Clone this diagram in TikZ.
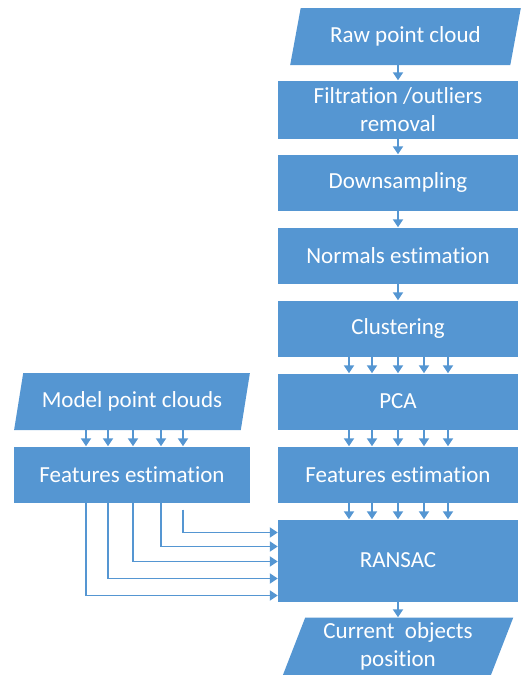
\documentclass[tikz,border=0pt]{standalone}
\usepackage{fontspec}
\setmainfont{Carlito}[Ligatures=NoCommon]
\usepackage{xcolor}
\usepackage{tikz}
\usetikzlibrary{shapes.geometric, arrows.meta}
\definecolor{flowblue}{HTML}{5596D2}
\tikzstyle{process} = [rectangle,
					  minimum width=240pt,
					  minimum height=56pt,
					  inner sep=0pt,
					  text centered,
					  fill=flowblue,
					  text=white,
					 ]
\tikzstyle{io} = [trapezium,
				  trapezium left angle=69,
				  trapezium right angle=111,
				  trapezium stretches=true,
				  minimum width=231pt,
				  minimum height=57pt,
				  inner sep=0pt,
				  text centered,
				  fill=flowblue,
				  text=white,
				 ]
\tikzstyle{arrow} = [line width=1.9pt,draw=flowblue,->,>={Triangle[width=10pt,length=8pt]}]
\newcommand{\boxfont}{\fontsize{23}{27.5}\selectfont}

\begin{document}
\begin{tikzpicture}[x=1pt, y=1pt, node distance=73pt, font=\boxfont]
\useasboundingbox (0,0) rectangle (521,-675);

\node (raw) [io] at (405.5,-36.5) {Raw point cloud};
\node (filt) [process, align=center, minimum height=58pt, below of =raw, xshift=-7.5pt] {Filtration /outliers\\removal};
\node (down) [process, below of =filt] {Downsampling};
\node (normals) [process, below of =down] {Normals estimation};
\node (clust) [process, below of =normals] {Clustering};
\node (pca) [process, below of =clust] {PCA};
\node (feat_r) [process, below of =pca] {Features estimation};
\node (ransac) [process, minimum height=82pt, below of =feat_r, yshift=-13pt] {RANSAC};
\node (current) [io, align=center, minimum height=58pt, below of =ransac, yshift=-13pt] {Current\ \ objects\\position};

\node (model) [io, minimum width=236pt, left of =pca, xshift=-193pt] {Model point clouds};
\node (feat_l) [process, minimum width=236pt, below of =model] {Features estimation};

\draw [arrow] (raw.south -| filt.north) -- (filt.north);
\draw [arrow] (filt) -- (down);
\draw [arrow] (down) -- (normals);
\draw [arrow] (normals) -- (clust);
\draw [arrow] ([xshift=-49pt]clust.south) -- ([xshift=-49pt]pca.north);
\draw [arrow] ([xshift=-26pt]clust.south) -- ([xshift=-26pt]pca.north);
\draw [arrow] (clust.south) -- (pca.north);
\draw [arrow] ([xshift=26pt]clust.south) -- ([xshift=26pt]pca.north);
\draw [arrow] ([xshift=50pt]clust.south) -- ([xshift=50pt]pca.north);
\draw [arrow] ([xshift=-49pt]pca.south) -- ([xshift=-49pt]feat_r.north);
\draw [arrow] ([xshift=-26pt]pca.south) -- ([xshift=-26pt]feat_r.north);
\draw [arrow] (pca.south) -- (feat_r.north);
\draw [arrow] ([xshift=26pt]pca.south) -- ([xshift=26pt]feat_r.north);
\draw [arrow] ([xshift=50pt]pca.south) -- ([xshift=50pt]feat_r.north);
\draw [arrow] ([xshift=-49pt]feat_r.south) -- ([xshift=-49pt]ransac.north);
\draw [arrow] ([xshift=-26pt]feat_r.south) -- ([xshift=-26pt]ransac.north);
\draw [arrow] (feat_r.south) -- (ransac.north);
\draw [arrow] ([xshift=26pt]feat_r.south) -- ([xshift=26pt]ransac.north);
\draw [arrow] ([xshift=50pt]feat_r.south) -- ([xshift=50pt]ransac.north);
\draw [arrow] (ransac.south) -- (ransac.south |- current.north);

\draw [arrow] ([xshift=-46pt]model.south) -- ([xshift=-46pt]feat_l.north);
\draw [arrow] ([xshift=-24pt]model.south) -- ([xshift=-24pt]feat_l.north);
\draw [arrow] ([xshift=1pt]model.south) -- ([xshift=1pt]feat_l.north);
\draw [arrow] ([xshift=29pt]model.south) -- ([xshift=29pt]feat_l.north);
\draw [arrow] ([xshift=51pt]model.south) -- ([xshift=51pt]feat_l.north);

\draw [arrow] ([xshift=51pt,yshift=-7pt]feat_l.south) |- ([yshift=28pt]ransac.west);
\draw [arrow] ([xshift=29pt]feat_l.south) |- ([yshift=14pt]ransac.west);
\draw [arrow] ([xshift=1pt]feat_l.south) |- ([yshift=-1pt]ransac.west);
\draw [arrow] ([xshift=-24pt]feat_l.south) |- ([yshift=-18pt]ransac.west);
\draw [arrow] ([xshift=-46pt]feat_l.south) |- ([yshift=-35pt]ransac.west);

\end{tikzpicture}
\end{document}
